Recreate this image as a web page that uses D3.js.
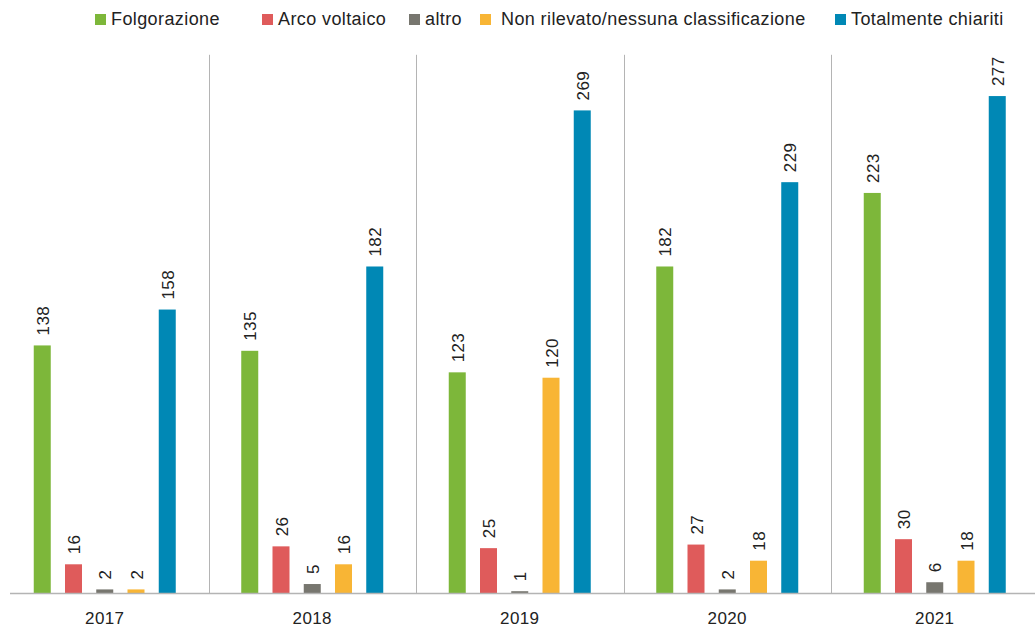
<!DOCTYPE html>
<html><head><meta charset="utf-8">
<script src="https://cdn.jsdelivr.net/npm/d3@7"></script>
<style>body{margin:0;background:#fff;}svg{display:block;font-family:"Liberation Sans",Arial,sans-serif;}</style>
</head><body>
<svg id="c" width="1035" height="627"></svg>
<script>
const years = ["2017","2018","2019","2020","2021"];
const seriesNames = ["Folgorazione","Arco voltaico","altro","Non rilevato/nessuna classificazione","Totalmente chiariti"];
const colors = ["#7db73a","#df5b5b","#77766f","#f8b535","#0088b5"];
const folgorazione = [138,135,123,182,223];
const arcoVoltaico = [16,26,25,27,30];
const altro = [2,5,1,2,6];
const nonRilevato = [2,16,120,18,18];
const totalmenteChiariti = [158,182,269,229,277];
const values = [folgorazione, arcoVoltaico, altro, nonRilevato, totalmenteChiariti];

const svg = d3.select("#c");
const baseY = 593;
const y = d3.scaleLinear().domain([0,300]).range([baseY, baseY - 300*1.794]);
const x = d3.scaleBand().domain(years).range([1, 1038.5]).padding(0);
const xi = d3.scalePoint().domain(seriesNames).range([-62.5, 62.5]);
const bw = 17;

// separators
svg.append("g").selectAll("line").data(years.slice(1)).join("line")
  .attr("x1", d => Math.round(x(d)) + 0.5).attr("x2", d => Math.round(x(d)) + 0.5)
  .attr("y1", y(300)).attr("y2", baseY)
  .attr("stroke", "#b4b4b4").attr("stroke-width", 1);

// bars
const data = [];
years.forEach((yr, i) => seriesNames.forEach((s, j) => data.push({yr, s, j, v: values[j][i]})));
const g = svg.append("g");
g.selectAll("rect").data(data).join("rect")
  .attr("x", d => x(d.yr) + x.bandwidth()/2 + xi(d.s) - bw/2)
  .attr("width", bw)
  .attr("y", d => y(d.v))
  .attr("height", d => baseY - y(d.v))
  .attr("fill", d => colors[d.j]);

g.selectAll("text").data(data).join("text")
  .attr("transform", d => `translate(${x(d.yr) + x.bandwidth()/2 + xi(d.s) + 6.5},${y(d.v) - 10}) rotate(-90)`)
  .attr("font-size", 17).attr("letter-spacing", 0.4).attr("fill", "#222")
  .text(d => d.v);

// baseline
svg.append("line").attr("x1", 10).attr("x2", 1035).attr("y1", baseY + 0.5).attr("y2", baseY + 0.5)
  .attr("stroke", "#b4b4b4").attr("stroke-width", 1.5);

// x axis labels
const xAxis = d3.axisBottom(x).tickSize(0).tickPadding(0);
const ax = svg.append("g").attr("transform", `translate(0,${baseY})`).call(xAxis);
ax.select(".domain").remove();
ax.selectAll("text").attr("font-size", 17).attr("letter-spacing", 0.4).attr("fill", "#222")
  .attr("font-family", "Liberation Sans, Arial, sans-serif").attr("dy", null).attr("y", 30.5);

// legend
const legX = [95, 262, 409, 480, 835];
const leg = svg.append("g").selectAll("g").data(seriesNames).join("g")
  .attr("transform", (d, i) => `translate(${legX[i]},0)`);
leg.append("rect").attr("x", 0).attr("y", 14).attr("width", 11).attr("height", 11)
  .attr("fill", (d, i) => colors[i]);
leg.append("text").attr("x", (d, i) => i === 3 ? 21 : 16).attr("y", 25)
  .attr("font-size", 18).attr("letter-spacing", 0.4).attr("fill", "#222").text(d => d);
</script>
</body></html>
